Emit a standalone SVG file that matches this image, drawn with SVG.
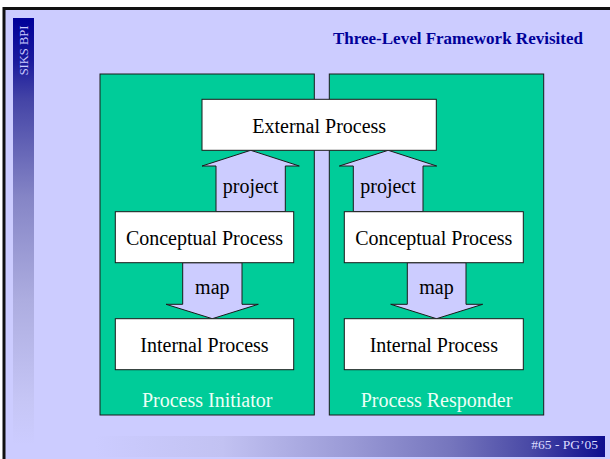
<svg xmlns="http://www.w3.org/2000/svg" width="610" height="459" viewBox="0 0 610 459">
<defs>
<linearGradient id="side" gradientUnits="userSpaceOnUse" x1="0" y1="18" x2="0" y2="445">
<stop offset="0" stop-color="#000099"/>
<stop offset="0.1" stop-color="#1a1a9c"/>
<stop offset="0.19" stop-color="#4444a6"/>
<stop offset="0.42" stop-color="#8585c6"/>
<stop offset="0.66" stop-color="#adade0"/>
<stop offset="0.9" stop-color="#c6c6f6"/>
<stop offset="1" stop-color="#ccccff"/>
</linearGradient>
<linearGradient id="foot" gradientUnits="userSpaceOnUse" x1="95" y1="0" x2="605" y2="0">
<stop offset="0" stop-color="#ccccff"/>
<stop offset="0.25" stop-color="#c2c2f2"/>
<stop offset="0.5" stop-color="#9a9ad6"/>
<stop offset="0.7" stop-color="#7575bd"/>
<stop offset="0.85" stop-color="#4a4aa6"/>
<stop offset="1" stop-color="#0c0c8e"/>
</linearGradient>
<style>
.t{font-family:"Liberation Serif","Times New Roman",serif;}
.box{fill:#ffffff;stroke:#1a1a1a;stroke-width:1;}
.grp{fill:#00cc99;stroke:#1a1a1a;stroke-width:1;}
.arr{fill:#ccccff;stroke:#1a1a1a;stroke-width:1;stroke-linejoin:miter;}
.lbl{font-size:20px;fill:#000000;text-anchor:middle;}
.glbl{font-size:20px;fill:#ecfff6;text-anchor:middle;}
</style>
</defs>
<rect x="0" y="0" width="610" height="459" fill="#ffffff"/>
<rect x="4" y="8.5" width="700" height="600" fill="#ccccff" stroke="#111111" stroke-width="3"/>
<rect x="13" y="18" width="21" height="428" fill="url(#side)"/>
<text class="t" x="0" y="0" transform="translate(27.5,50.5) rotate(-90)" font-size="12.5" fill="#ccccff" text-anchor="middle">SIKS BPI</text>
<text class="t" x="333" y="43.5" font-size="17" font-weight="bold" fill="#000099">Three-Level Framework Revisited</text>
<rect x="95" y="436" width="510" height="21" fill="url(#foot)"/>
<text class="t" x="598" y="448.5" font-size="13.5" fill="#dcdcff" text-anchor="end">#65 - PG’05</text>

<g id="process-initiator">
<rect class="grp" x="100" y="74" width="214.3" height="341"/>
<text class="t glbl" x="207.2" y="406.5">Process Initiator</text>
</g>
<g id="process-responder">
<rect class="grp" x="329.3" y="74" width="214.4" height="341"/>
<text class="t glbl" x="436.5" y="406.5">Process Responder</text>
</g>

<g id="connectors">
<g id="project-left">
<polygon class="arr" points="216,211.7 216,166 202,166 250.7,150.3 299.3,166 285.3,166 285.3,211.7"/>
<text class="t lbl" x="250.5" y="193.3">project</text>
</g>
<g id="project-right">
<polygon class="arr" points="353.3,211.7 353.3,166 339.3,166 388.2,150.3 436.7,166 423,166 423,211.7"/>
<text class="t lbl" x="388" y="193.3">project</text>
</g>
<g id="map-left">
<polygon class="arr" points="182.7,262.7 182.7,304.3 166,304.3 212.3,318.7 258.3,304.3 242,304.3 242,262.7"/>
<text class="t lbl" x="212.3" y="294">map</text>
</g>
<g id="map-right">
<polygon class="arr" points="407.3,262.7 407.3,304.3 390.7,304.3 436.5,318.7 482.7,304.3 466,304.3 466,262.7"/>
<text class="t lbl" x="436.5" y="294">map</text>
</g>
</g>

<g id="external-process">
<rect class="box" x="202" y="99.3" width="234.3" height="51"/>
<text class="t lbl" x="319.2" y="132.7">External Process</text>
</g>
<g id="conceptual-initiator">
<rect class="box" x="115.3" y="211.7" width="178.4" height="51"/>
<text class="t lbl" x="204.5" y="245">Conceptual Process</text>
</g>
<g id="internal-initiator">
<rect class="box" x="115.3" y="318.7" width="178.4" height="51"/>
<text class="t lbl" x="204.5" y="352">Internal Process</text>
</g>
<g id="conceptual-responder">
<rect class="box" x="344.3" y="211.7" width="179" height="51"/>
<text class="t lbl" x="433.8" y="245">Conceptual Process</text>
</g>
<g id="internal-responder">
<rect class="box" x="344.3" y="318.7" width="179" height="51"/>
<text class="t lbl" x="433.8" y="352">Internal Process</text>
</g>
</svg>
